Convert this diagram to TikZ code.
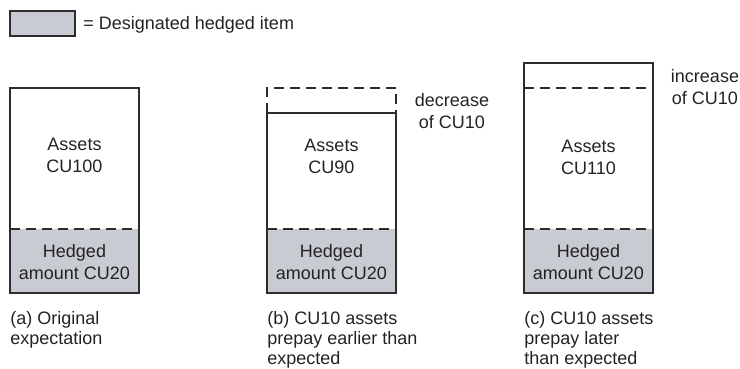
\documentclass[tikz,border=0pt]{standalone}
\usepackage{fontspec}
\setmainfont{Liberation Sans}
\definecolor{hedgefill}{RGB}{201,203,210}
\definecolor{boxline}{RGB}{45,45,45}
\definecolor{inktext}{RGB}{35,35,35}
\tikzset{
  outline/.style = {draw=boxline, line width=0.6pt},
  cut/.style = {draw=boxline, line width=0.6pt, dash pattern=on 5pt off 3pt},
  txt/.style = {font=\fontsize{9}{11}\selectfont, align=center, inner sep=0pt, text=inktext},
  capt/.style = {font=\fontsize{9}{10}\selectfont, align=left, anchor=north west, inner sep=0pt, text=inktext}
}

\begin{document}
\begin{tikzpicture}[x=0.5pt,y=-0.5pt]
  \useasboundingbox (0,0) rectangle (740,369);
  % legend
  \draw[outline,fill=hedgefill] (10,11) rectangle (75,36);
  \node[txt, anchor=base west] (key) at (83,30) {= Designated hedged item};
  % (a) original expectation
  \fill[hedgefill] (10,229) rectangle (139,293);
  \draw[outline] (10,88) rectangle (139,293);
  \draw[cut] (10,229) -- (139,229);
  \node[txt] (assetsA) at (74.5,155) {Assets\\CU100};
  \node[txt] (hedgedA) at (74.5,262) {Hedged\\amount CU20};
  \node[capt] (capA) at (10,311) {(a) Original\\expectation};
  % (b) earlier prepayment
  \fill[hedgefill] (267,229) rectangle (396,293);
  \draw[outline] (267,113) rectangle (396,293);
  \draw[cut] (267,113) -- (267,88) -- (396,88) -- (396,113);
  \draw[cut] (267,229) -- (396,229);
  \node[txt] (assetsB) at (331.5,156) {Assets\\CU90};
  \node[txt] (hedgedB) at (331.5,262) {Hedged\\amount CU20};
  \node[txt] (changeB) at (452,111) {decrease\\of CU10};
  \node[capt] (capB) at (267,311) {(b) CU10 assets\\prepay earlier than\\expected};
  % (c) later prepayment
  \fill[hedgefill] (524,229) rectangle (653,293);
  \draw[outline] (524,63) rectangle (653,293);
  \draw[cut] (524,88) -- (653,88);
  \draw[cut] (524,229) -- (653,229);
  \node[txt] (assetsC) at (588.5,157) {Assets\\CU110};
  \node[txt] (hedgedC) at (588.5,262) {Hedged\\amount CU20};
  \node[txt] (changeC) at (705,87) {increase\\of CU10};
  \node[capt] (capC) at (524,311) {(c) CU10 assets\\prepay later\\than expected};
\end{tikzpicture}
\end{document}
